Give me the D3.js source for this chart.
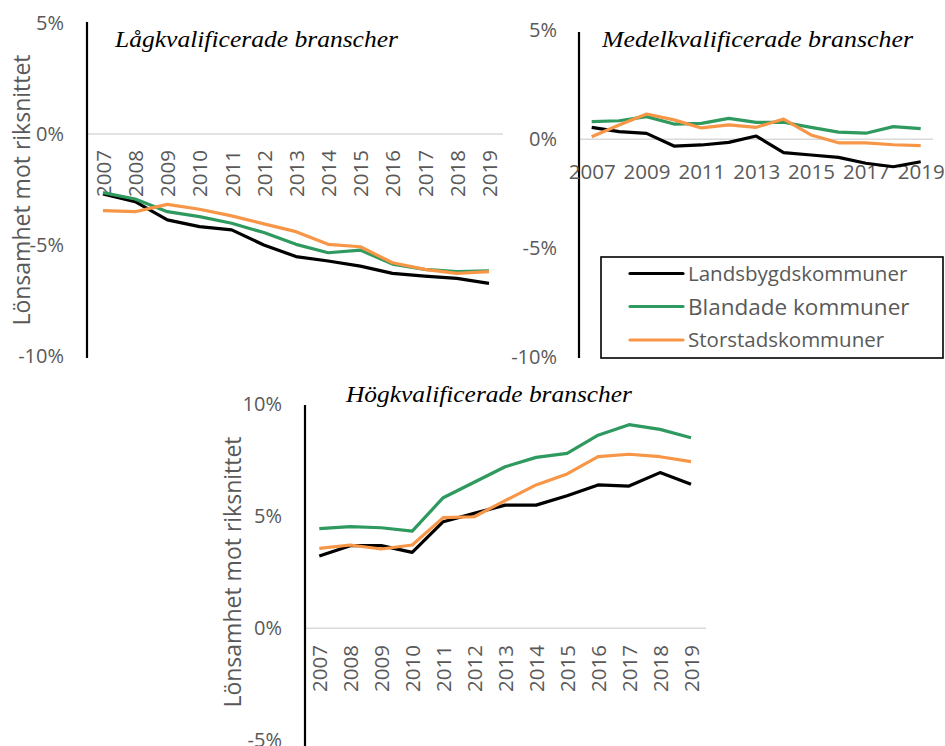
<!DOCTYPE html>
<html><head><meta charset="utf-8">
<script src="https://cdn.jsdelivr.net/npm/d3@7"></script>
<style>
body{margin:0;background:#fff;}
svg{display:block;}
</style></head>
<body>
<svg id="c" width="945" height="746"></svg>
<script>
// ---- data ----
const years = ["2007","2008","2009","2010","2011","2012","2013","2014","2015","2016","2017","2018","2019"];
const seriesNames = ["Landsbygdskommuner","Blandade kommuner","Storstadskommuner"];
const panelTitles = ["Lågkvalificerade branscher","Medelkvalificerade branscher","Högkvalificerade branscher"];
const yTitle = "Lönsamhet mot riksnittet";
const ticksTop = [5,0,-5,-10];
const ticksBottom = [10,5,0,-5];

const lowLands   = [-2.70,-3.05,-3.87,-4.17,-4.32,-5.00,-5.52,-5.72,-5.95,-6.28,-6.40,-6.50,-6.73];
const lowBland   = [-2.64,-2.93,-3.50,-3.72,-4.02,-4.44,-4.97,-5.35,-5.23,-5.86,-6.10,-6.20,-6.16];
const lowStor    = [-3.45,-3.50,-3.17,-3.39,-3.69,-4.05,-4.40,-4.97,-5.08,-5.80,-6.10,-6.28,-6.20];

const midLands   = [0.55,0.35,0.27,-0.31,-0.26,-0.14,0.15,-0.61,-0.72,-0.83,-1.10,-1.26,-1.03];
const midBland   = [0.81,0.85,1.04,0.70,0.73,0.96,0.78,0.78,0.55,0.33,0.28,0.58,0.49];
const midStor    = [0.12,0.66,1.16,0.89,0.52,0.66,0.55,0.93,0.20,-0.16,-0.16,-0.25,-0.29];

const highLands  = [3.23,3.69,3.69,3.39,4.76,5.13,5.50,5.50,5.92,6.40,6.35,6.95,6.43];
const highBland  = [4.45,4.54,4.49,4.34,5.83,6.52,7.21,7.63,7.81,8.62,9.09,8.88,8.51];
const highStor   = [3.57,3.72,3.54,3.72,4.94,4.98,5.70,6.40,6.89,7.66,7.77,7.66,7.44];

// ---- styles ----
const colors = ["#000000","#2f9a5f","#f79646"];
const tickFont = "'Open Sans', sans-serif";
const grey = "#595959";

const svg = d3.select("#c");

function drawPanel(cfg){
  const g = svg.append("g");
  const y = d3.scaleLinear().domain(cfg.domain).range(cfg.yRange);
  const x = d3.scalePoint().domain(years).range(cfg.xRange);

  // gridline at 0
  g.append("line").attr("x1",cfg.axisX).attr("x2",cfg.gridEnd)
    .attr("y1",y(0)).attr("y2",y(0)).attr("stroke","#d9d9d9").attr("stroke-width",1.5);

  // y tick labels
  const yAxis = d3.axisLeft(y).tickValues(cfg.ticks).tickSize(0).tickFormat(d=>d+"%");
  const ya = g.append("g").attr("transform",`translate(${cfg.tickRight},0)`).call(yAxis);
  ya.select(".domain").remove();
  ya.selectAll("text").attr("x",0).attr("font-family",tickFont).attr("font-size",20).attr("fill",grey);

  // axis line
  g.append("line").attr("x1",cfg.axisX).attr("x2",cfg.axisX)
    .attr("y1",cfg.axisTop).attr("y2",cfg.axisBottom).attr("stroke","#000").attr("stroke-width",2.2);

  // x labels
  const xAxis = d3.axisBottom(x).tickSize(0);
  if(cfg.rotate){
    const xa = g.append("g").attr("transform",`translate(0,${cfg.labelY})`).call(xAxis);
    xa.select(".domain").remove();
    xa.selectAll("text").attr("transform","rotate(-90)").attr("text-anchor","end")
      .attr("x",0).attr("y",0).attr("dy","0.36em")
      .attr("font-family",tickFont).attr("font-size",20.5).attr("fill",grey);
  } else {
    xAxis.tickValues(years.filter((d,i)=>i%2===0));
    const xa = g.append("g").attr("transform",`translate(0,${cfg.labelY})`).call(xAxis);
    xa.select(".domain").remove();
    xa.selectAll("text").attr("y",0).attr("dy",0)
      .attr("font-family",tickFont).attr("font-size",20.5).attr("fill",grey);
  }

  // lines
  const line = d3.line().x((d,i)=>x(years[i])).y(d=>y(d));
  cfg.series.forEach((s,i)=>{
    g.append("path").datum(s).attr("d",line).attr("fill","none")
      .attr("stroke",colors[i]).attr("stroke-width",3.2).attr("stroke-linejoin","round");
  });

  // title
  g.append("text").attr("x",cfg.titleX).attr("y",cfg.titleY).text(cfg.title)
    .attr("font-family","'Liberation Serif', serif").attr("font-style","italic")
    .attr("font-size",24).attr("textLength",cfg.titleLen).attr("lengthAdjust","spacingAndGlyphs").attr("fill","#000");

  // y title
  if(cfg.yTitleX!=null){
    g.append("text").attr("transform",`translate(${cfg.yTitleX},${cfg.yTitleY}) rotate(-90)`)
      .attr("text-anchor","middle").attr("dy","0.36em").text(yTitle)
      .attr("font-family",tickFont).attr("font-size",23).attr("fill",grey);
  }
}

drawPanel({domain:[-10,5], yRange:[356,23], xRange:[103,489], axisX:87, axisTop:22, axisBottom:358,
  gridEnd:503, tickRight:64, ticks:ticksTop, rotate:true, labelY:150,
  series:[lowLands,lowBland,lowStor], title:panelTitles[0], titleX:115, titleY:47, titleLen:283,
  yTitleX:22, yTitleY:190});

drawPanel({domain:[-10,5], yRange:[357.3,30.3], xRange:[591.7,920.7], axisX:579, axisTop:32, axisBottom:358,
  gridEnd:933, tickRight:557, ticks:ticksTop, rotate:false, labelY:179,
  series:[midLands,midBland,midStor], title:panelTitles[1], titleX:602, titleY:47, titleLen:311,
  yTitleX:null});

drawPanel({domain:[-5,10], yRange:[740.3,404.3], xRange:[319.3,691], axisX:305, axisTop:405, axisBottom:746,
  gridEnd:706, tickRight:282, ticks:ticksBottom, rotate:true, labelY:645,
  series:[highLands,highBland,highStor], title:panelTitles[2], titleX:346, titleY:402, titleLen:286,
  yTitleX:233, yTitleY:572});

// legend
const lg = svg.append("g");
lg.append("rect").attr("x",601).attr("y",257).attr("width",342).attr("height",101)
  .attr("fill","#fff").attr("stroke","#000").attr("stroke-width",1.6);
const legendY = [273.5,306.5,340];
const legendSize = [20.5,22.5,20.5];
seriesNames.forEach((n,i)=>{
  lg.append("line").attr("x1",630).attr("x2",683).attr("y1",legendY[i]).attr("y2",legendY[i])
    .attr("stroke",colors[i]).attr("stroke-width",3.2).attr("stroke-linecap","round");
  lg.append("text").attr("x",688).attr("y",legendY[i]).attr("dy","0.36em").text(n)
    .attr("font-family",tickFont).attr("font-size",legendSize[i]).attr("fill",grey);
});
</script>
</body></html>
